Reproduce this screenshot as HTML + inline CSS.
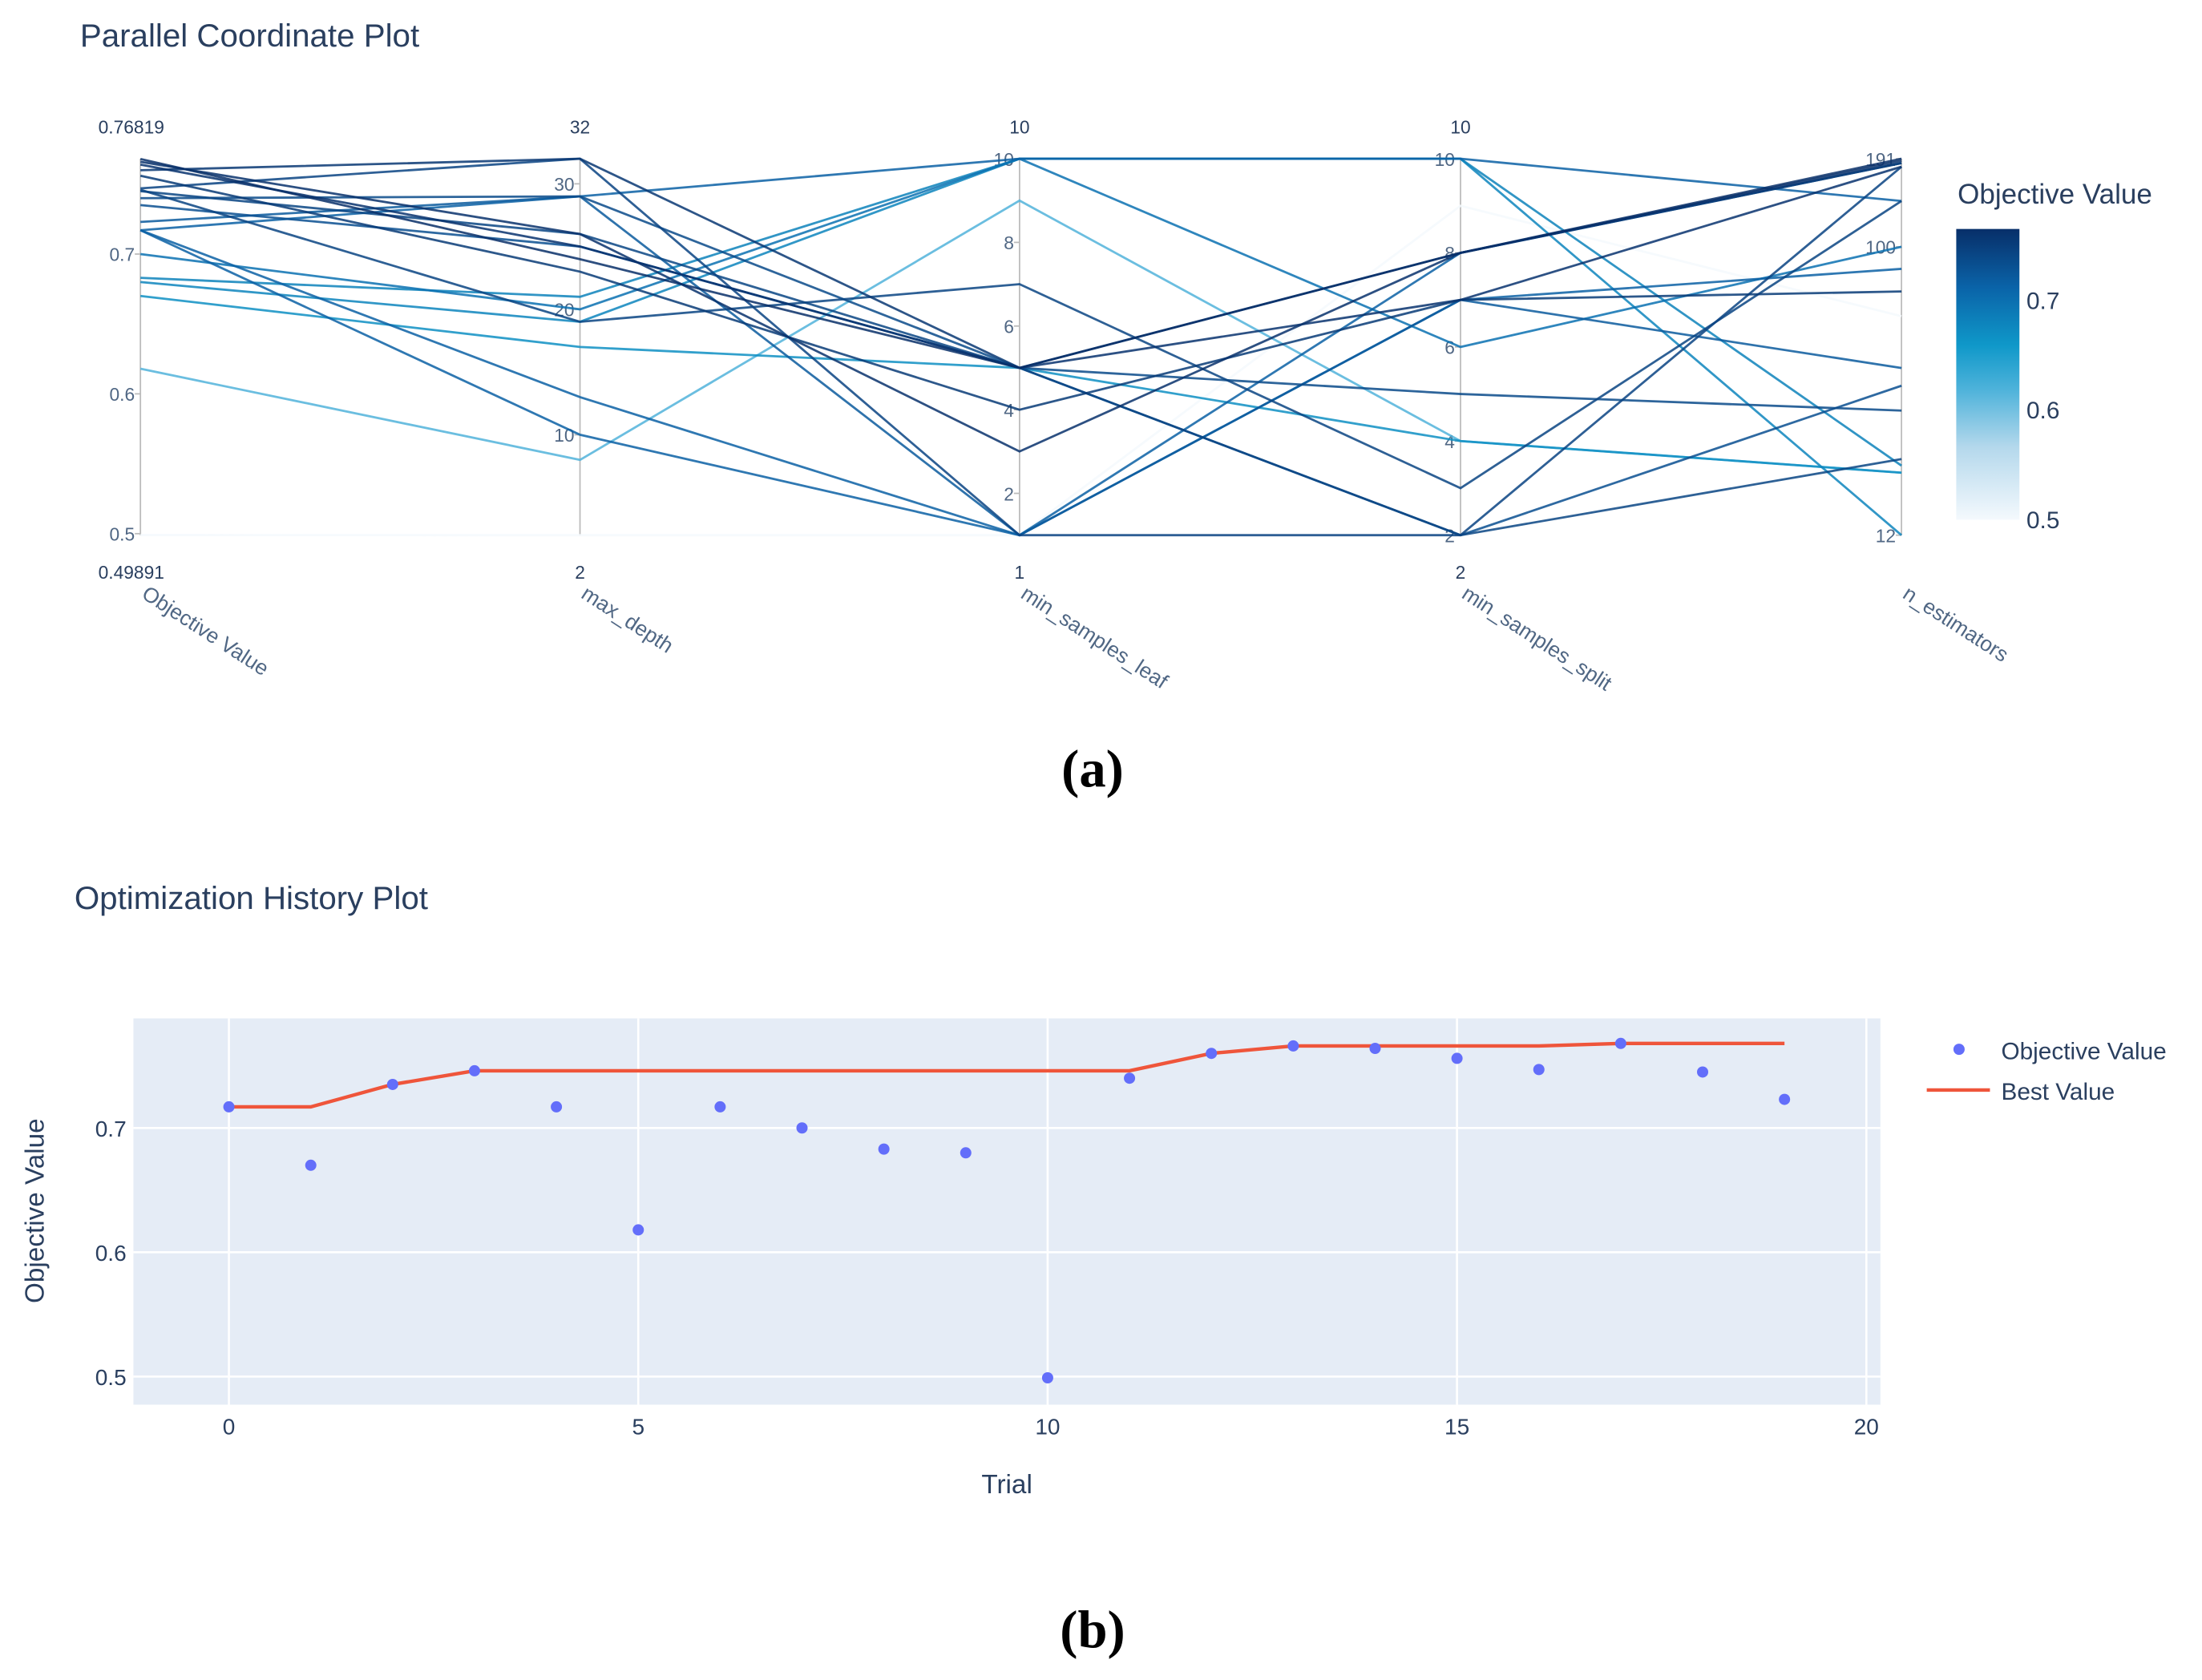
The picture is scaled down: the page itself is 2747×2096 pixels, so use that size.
<!DOCTYPE html>
<html><head><meta charset="utf-8">
<style>
html,body{margin:0;padding:0;background:#fff;}
svg{display:block;font-family:"Liberation Sans",sans-serif;}
</style></head>
<body>
<svg id="root" width="2747" height="2096" viewBox="0 0 1568 1196" preserveAspectRatio="none" xmlns="http://www.w3.org/2000/svg">
<defs>
<linearGradient id="cbgrad" x1="0" y1="1" x2="0" y2="0">
<stop offset="0" stop-color="#f4f9fd"/>
<stop offset="0.25" stop-color="#b4d8ec"/>
<stop offset="0.45" stop-color="#4db2da"/>
<stop offset="0.6" stop-color="#0f98c9"/>
<stop offset="0.8" stop-color="#0a63a8"/>
<stop offset="1" stop-color="#082f69"/>
</linearGradient>
</defs>
<text x="57" y="33" font-size="23" fill="#2a3f5f">Parallel Coordinate Plot</text>
<g id="pc"></g>
<g>
<text x="1394" y="145" font-size="20" fill="#2a3f5f">Objective Value</text>
<rect x="1393" y="163" width="45" height="207" fill="url(#cbgrad)"/>
<text x="1443" y="220" font-size="17" fill="#2a3f5f">0.7</text>
<text x="1443" y="298" font-size="17" fill="#2a3f5f">0.6</text>
<text x="1443" y="376" font-size="17" fill="#2a3f5f">0.5</text>
</g>
<text x="778" y="560" font-size="38" font-weight="bold" text-anchor="middle" font-family="Liberation Serif, serif" fill="#000">(a)</text>

<text x="53" y="647" font-size="23" fill="#2a3f5f">Optimization History Plot</text>
<g id="hist"></g>
<text x="717" y="1063" font-size="19" text-anchor="middle" fill="#2a3f5f">Trial</text>
<text transform="translate(31,862) rotate(-90)" font-size="19" text-anchor="middle" fill="#2a3f5f">Objective Value</text>
<g>
<circle cx="1395" cy="747" r="4" fill="#636efa"/>
<text x="1425" y="754" font-size="17" fill="#2a3f5f">Objective Value</text>
<line x1="1372" y1="776" x2="1417" y2="776" stroke="#ef553b" stroke-width="2.5"/>
<text x="1425" y="783" font-size="17" fill="#2a3f5f">Best Value</text>
</g>
<text x="778" y="1173" font-size="38" font-weight="bold" text-anchor="middle" font-family="Liberation Serif, serif" fill="#000">(b)</text>
</svg>
<script>
const objValues=[0.717,0.670,0.735,0.746,0.717,0.618,0.717,0.700,0.683,0.680,0.499,0.740,0.760,0.766,0.764,0.756,0.747,0.768,0.745,0.723];
const bestValues=[0.717,0.717,0.735,0.746,0.746,0.746,0.746,0.746,0.746,0.746,0.746,0.746,0.760,0.766,0.766,0.766,0.766,0.768,0.768,0.768];
const maxDepth=[29,17,25,19,10,8,13,20,21,19,2,29,32,26,25,23,32,24,26,29];
const minLeaf=[10,5,5,7,1,9,1,10,10,10,1,5,5,3,5,4,1,5,5,1];
const minSplit=[10,4,2,3,8,4,7,6,10,10,9,5,8,8,7,7,2,8,2,7];
const nEst=[140,19,36,140,185,19,85,100,20,12,60,30,185,188,180,72,180,191,21,41];
const axisNames=["Objective Value","max_depth","min_samples_leaf","min_samples_split","n_estimators"];
const axisMin=[0.49891,2,1,2,12];
const axisMax=[0.76819,32,10,10,191];
const axisLog=[false,false,false,false,true];
const axisTicks=[[0.5,0.6,0.7],[10,20,30],[2,4,6,8,10],[2,4,6,8,10],[12,100,191]];
const axisTopLabels=["0.76819","32","10","10",""];
const axisBottomLabels=["0.49891","2","1","2",""];
const histXTicks=[0,5,10,15,20];
const histYTicks=[0.5,0.6,0.7];

const NS="http://www.w3.org/2000/svg";
function mk(tag,attrs,parent){const e=document.createElementNS(NS,tag);for(const k in attrs)e.setAttribute(k,attrs[k]);parent.appendChild(e);return e;}
const axX=[100,413,726,1040,1354], TOP=113, BOT=381;
function axY(i,v){
 const f=axisLog[i]?Math.log(v/axisMin[i])/Math.log(axisMax[i]/axisMin[i]):(v-axisMin[i])/(axisMax[i]-axisMin[i]);
 return BOT-f*(BOT-TOP);}
const stops=[[0,[244,249,253]],[0.25,[180,216,236]],[0.45,[77,178,218]],[0.6,[15,152,201]],[0.8,[10,99,168]],[1,[8,47,105]]];
function col(v){let t=(v-axisMin[0])/(axisMax[0]-axisMin[0]);t=Math.max(0,Math.min(1,t));
 for(let i=1;i<stops.length;i++){if(t<=stops[i][0]){const a=stops[i-1],b=stops[i],f=(t-a[0])/(b[0]-a[0]);
 return "rgb("+a[1].map((c,j)=>Math.round(c+(b[1][j]-c)*f)).join(",")+")";}}return "rgb(8,47,105)";}
const pc=document.getElementById('pc');
for(let i=0;i<5;i++){
 const l=mk('line',{x1:axX[i],y1:TOP,x2:axX[i],y2:BOT,stroke:'#bbb','stroke-width':1},pc);
 
 
 axisTicks[i].forEach(t=>{const y=axY(i,t);
  const tl=mk('line',{x1:axX[i]-4,y1:y,x2:axX[i],y2:y,stroke:'#bbb'},pc);
  
  
  const tx=mk('text',{x:axX[i]-4,y:y+5,'font-size':13,'text-anchor':'end',fill:'#506784'},pc);
  
  
  tx.textContent=t;});
 const top=mk('text',{x:i===0?70:axX[i],y:95,'font-size':13,'text-anchor':i===0?'start':'middle',fill:'#2a3f5f'},pc);
 
 
 top.textContent=axisTopLabels[i];
 const bot=mk('text',{x:i===0?70:axX[i],y:412,'font-size':13,'text-anchor':i===0?'start':'middle',fill:'#2a3f5f'},pc);
 
 
 bot.textContent=axisBottomLabels[i];
 const nm=mk('text',{transform:'translate('+axX[i]+',425) rotate(33)','font-size':15,fill:'#506784'},pc);
 
 
 nm.textContent=axisNames[i];
}
const order=objValues.map((v,i)=>i).sort((a,b)=>objValues[a]-objValues[b]);
order.forEach(k=>{
 const vals=[objValues[k],maxDepth[k],minLeaf[k],minSplit[k],nEst[k]];
 const pts=vals.map((v,i)=>axX[i]+','+axY(i,v).toFixed(1)).join(' ');
 const p=mk('polyline',{points:pts,fill:'none',stroke:col(objValues[k]),'stroke-width':1.6,'stroke-opacity':0.85},pc);
 
 
});
const hist=document.getElementById('hist');
const PX0=95,PX1=1339,PY0=725,PY1=1000;
function hx(v){return 163+v*(1329-163)/20;}
function hy(v){return 803+(0.7-v)*885;}
const bg=mk('rect',{x:PX0,y:PY0,width:PX1-PX0,height:PY1-PY0,fill:'#e5ecf6'},hist);


histXTicks.forEach(t=>{
 const g=mk('line',{x1:hx(t),y1:PY0,x2:hx(t),y2:PY1,stroke:'#fff','stroke-width':1.5},hist);
 
 
 const tx=mk('text',{x:hx(t),y:1021,'font-size':16,'text-anchor':'middle',fill:'#2a3f5f'},hist);
 
 
 tx.textContent=t;});
histYTicks.forEach(t=>{
 const g=mk('line',{x1:PX0,y1:hy(t),x2:PX1,y2:hy(t),stroke:'#fff','stroke-width':1.5},hist);
 
 
 const tx=mk('text',{x:90,y:hy(t)+6,'font-size':16,'text-anchor':'end',fill:'#2a3f5f'},hist);
 
 
 tx.textContent=t.toFixed(1);});
const bl=mk('polyline',{points:bestValues.map((v,i)=>hx(i)+','+hy(v).toFixed(1)).join(' '),fill:'none',stroke:'#ef553b','stroke-width':2.5},hist);


objValues.forEach((v,i)=>{
 const c=mk('circle',{cx:hx(i),cy:hy(v),r:4,fill:'#636efa'},hist);
 
 
});
</script>
</body></html>
